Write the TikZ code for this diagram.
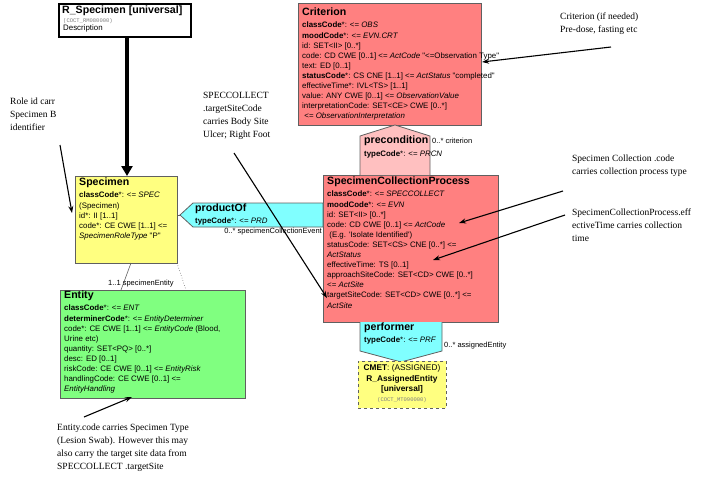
\documentclass[tikz,border=0pt]{standalone}
\usepackage{fontspec}
\setmainfont{Liberation Serif}
\newfontfamily\boxfont{Liberation Sans}
\newfontfamily\codefont{Liberation Mono}
\usetikzlibrary{arrows.meta}
\definecolor{redbox}{RGB}{255,128,128}
\definecolor{yellowbox}{RGB}{255,255,128}
\definecolor{greenbox}{RGB}{128,255,128}
\definecolor{cyanbox}{RGB}{128,255,255}
\definecolor{pinkbox}{RGB}{255,192,192}
\definecolor{edgegray}{RGB}{96,96,96}
\tikzset{
  box/.style={draw=edgegray, line width=0.8pt, anchor=north west, inner sep=0pt},
  body/.style={anchor=north west, inner sep=0pt, align=left, font=\boxfont\fontsize{7.9}{10.1}\selectfont},
  ttl/.style={anchor=north west, inner sep=0pt, font=\boxfont\bfseries\fontsize{10.6}{12}\selectfont},
  rolelbl/.style={inner sep=0pt, font=\boxfont\fontsize{7.5}{9}\selectfont},
  note/.style={anchor=north west, inner sep=0pt, align=left, font=\fontsize{9.5}{13}\selectfont},
  notearrow/.style={-{Stealth[length=7pt,width=5pt]}, line width=1.1pt},
  relshape/.style={draw=edgegray, line width=0.8pt}
}
\begin{document}
\begin{tikzpicture}[x=1pt,y=-1pt]
\useasboundingbox (0,0) rectangle (720,492);

% R_Specimen
\node[box, draw=black, line width=1.8pt, fill=white, minimum width=132pt, minimum height=33pt] (rspec) at (58,3) {};
\node[ttl] (rspecT) at (62,6) {R\_Specimen [universal]};
\node[body, text=gray, font=\codefont\fontsize{5.5}{7}\selectfont] (rspecC) at (63,18) {(COCT\_RM080000)};
\node[body] (rspecD) at (63,25) {Description};

% Criterion
\node[box, fill=redbox, minimum width=183pt, minimum height=122pt] (crit) at (298,3) {};
\node[ttl] (critT) at (302,8) {Criterion};
\node[body] (critB) at (302,22) {\textbf{classCode}*: <= \textit{OBS}\\
\textbf{moodCode}*: <= \textit{EVN.CRT}\\
id: SET<II> [0..*]\\
code: CD CWE [0..1] <= \textit{ActCode} "<=Observation Type"\\
text: ED [0..1]\\
\textbf{statusCode}*: CS CNE [1..1] <= \textit{ActStatus} "completed"\\
effectiveTime*: IVL<TS> [1..1]\\
value: ANY CWE [0..1] <= \textit{ObservationValue}\\
interpretationCode: SET<CE> CWE [0..*]\\
\ <= \textit{ObservationInterpretation}};

% Specimen Collection Process
\node[box, fill=redbox, minimum width=175pt, minimum height=147pt] (scp) at (323,175) {};
\node[ttl] (scpT) at (327,177) {SpecimenCollectionProcess};
\node[body] (scpB) at (327,191) {\textbf{classCode}*: <= \textit{SPECCOLLECT}\\
\textbf{moodCode}*: <= \textit{EVN}\\
id: SET<II> [0..*]\\
code: CD CWE [0..1] <= \textit{ActCode}\\
\ (E.g. 'Isolate Identified')\\
statusCode: SET<CS> CNE [0..*] <=\\
\textit{ActStatus}\\
effectiveTime: TS [0..1]\\
approachSiteCode: SET<CD> CWE [0..*]\\
<= \textit{ActSite}\\
targetSiteCode: SET<CD> CWE [0..*] <=\\
\textit{ActSite}};

% precondition
\coordinate (preL) at (360,175);
\coordinate (preR) at (430,175);
\draw[relshape, fill=pinkbox] (preL) -- (360,136) -- (395,125) -- (430,136) -- (preR);
\node[ttl] (preT) at (364,136) {precondition};
\node[body] (preB) at (364,151) {\textbf{typeCode}*: <= \textit{PRCN}};
\node[rolelbl, anchor=west] (preLbl) at (432,141) {0..* criterion};

% Specimen
\node[box, fill=yellowbox, minimum width=102pt, minimum height=87pt] (spec) at (75,176) {};
\node[ttl] (specT) at (79,178) {Specimen};
\node[body] (specB) at (79,192) {\textbf{classCode}*: <= \textit{SPEC}\\
(Specimen)\\
id*: II [1..1]\\
code*: CE CWE [1..1] <=\\
\textit{SpecimenRoleType} "P"};

% productOf
\draw[relshape, fill=cyanbox] (180,215) -- (193,203) -- (323,203) -- (323,227) -- (193,227) -- cycle;
\draw[edgegray, line width=0.8pt] (spec.east |- 0,215) -- (180,215);
\node[ttl] (prodT) at (195,204) {productOf};
\node[body] (prodB) at (195,218) {\textbf{typeCode}*: <= \textit{PRD}};
\node[rolelbl, anchor=east] (prodLbl) at (322,232) {0..* specimenCollectionEvent};

% Entity
\node[box, fill=greenbox, minimum width=185pt, minimum height=108pt] (ent) at (60,290) {};
\node[ttl] (entT) at (64,291) {Entity};
\node[body] (entB) at (64,305) {\textbf{classCode}*: <= \textit{ENT}\\
\textbf{determinerCode}*: <= \textit{EntityDeterminer}\\
code*: CE CWE [1..1] <= \textit{EntityCode} (Blood,\\
Urine etc)\\
quantity: SET<PQ> [0..*]\\
desc: ED [0..1]\\
riskCode: CE CWE [0..1] <= \textit{EntityRisk}\\
handlingCode: CE CWE [0..1] <=\\
\textit{EntityHandling}};

% Specimen -> Entity
\coordinate (specBot) at (131,263);
\coordinate (entTop) at (121,290);
\draw[edgegray, line width=0.6pt] (specBot) -- (entTop);
\coordinate (specBot2) at (177,263);
\coordinate (entTop2) at (186,290);
\draw[edgegray, line width=0.6pt, dotted] (specBot2) -- (entTop2);
\node[rolelbl, anchor=west] (entLbl) at (108,284) {1..1 specimenEntity};

% performer
\draw[relshape, fill=cyanbox] (360,322) -- (360,351) -- (401,362) -- (442,351) -- (442,322);
\node[ttl] (perfT) at (364,323) {performer};
\node[body] (perfB) at (364,337) {\textbf{typeCode}*: <= \textit{PRF}};
\node[rolelbl, anchor=west] (perfLbl) at (444,346) {0..* assignedEntity};

% CMET
\node[box, fill=yellowbox, draw=edgegray, dashed, line width=0.8pt, minimum width=88pt, minimum height=47pt] (cmet) at (358,361) {};
\node[anchor=north, inner sep=0pt, align=center, font=\boxfont\fontsize{8.3}{10.8}\selectfont] (cmetT) at (402,364) {\textbf{CMET}: (ASSIGNED)\\ \textbf{R\_AssignedEntity}\\ \textbf{[universal]}};
\node[anchor=north, inner sep=0pt, text=gray, font=\codefont\fontsize{5.5}{7}\selectfont] (cmetC) at (402,397) {(COCT\_MT090000)};

% thick arrow R_Specimen -> Specimen
\draw[line width=3.5pt, -{Triangle[length=10pt,width=11pt]}] (rspec.south -| 127,0) -- (127,176);

% annotations
\node[note] (n1) at (560,13) {Criterion (if needed)\\Pre-dose, fasting etc};
\coordinate (n1s) at (611,47);
\coordinate (n1e) at (482,62);
\draw[notearrow] (n1s) -- (n1e);

\node[note] (n2) at (10,98) {Role id carr\\Specimen B\\identifier};
\coordinate (n2s) at (60,145);
\coordinate (n2e) at (72,213);
\draw[notearrow] (n2s) -- (n2e);

\node[note] (n3) at (203,92) {SPECCOLLECT\\.targetSiteCode\\carries Body Site\\Ulcer; Right Foot};
\coordinate (n3s) at (234,153);
\coordinate (n3e) at (327,298);
\draw[notearrow] (n3s) -- (n3e);

\node[note] (n4) at (572,155) {Specimen Collection .code\\carries collection process type};
\coordinate (n4s) at (563,191);
\coordinate (n4e) at (459,223);
\draw[notearrow] (n4s) -- (n4e);

\node[note] (n5) at (572,209) {SpecimenCollectionProcess.eff\\ectiveTime carries collection\\time};
\coordinate (n5s) at (565,215);
\coordinate (n5e) at (433,260);
\draw[notearrow] (n5s) -- (n5e);

\node[note] (n6) at (57,424) {Entity.code carries Specimen Type\\(Lesion Swab). However this may\\also carry the target site data from\\SPECCOLLECT .targetSite};
\coordinate (n6s) at (84,417);
\coordinate (n6e) at (132,397);
\draw[notearrow] (n6s) -- (n6e);
\end{tikzpicture}
\end{document}
